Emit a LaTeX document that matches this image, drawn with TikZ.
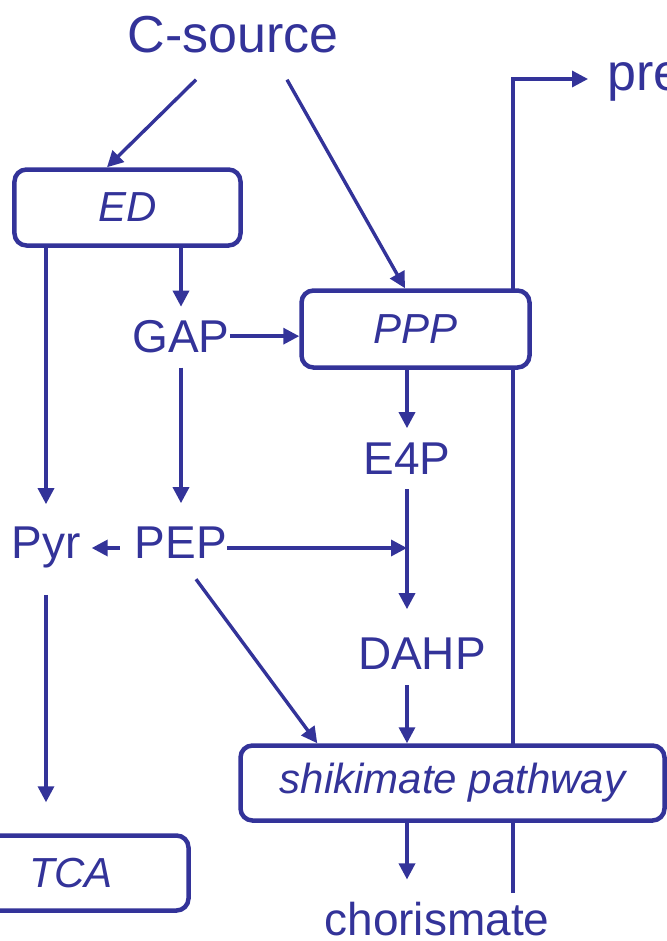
\documentclass[tikz,border=0pt]{standalone}
\usepackage{fontspec}
\setmainfont{Liberation Sans}
\usetikzlibrary{calc,arrows.meta}
\definecolor{pathblue}{RGB}{51,51,153}

\begin{document}
\begin{tikzpicture}[x=1bp,y=-1bp,>={Triangle[length=16bp,width=16bp]},
  flow/.style={->,draw=pathblue,line width=3.4bp},
  metab/.style={text=pathblue,inner sep=0pt,anchor=base,font=\fontsize{46bp}{55bp}\selectfont},
  big/.style={metab,font=\fontsize{52bp}{62bp}\selectfont},
  block/.style={draw=pathblue,fill=white,line width=4.5bp,rounded corners=12bp,inner sep=0pt,
    text=pathblue,font=\fontsize{42bp}{50bp}\selectfont\itshape}]
  \useasboundingbox (0,0) rectangle (667,941);
  \clip (0,0) rectangle (667,941);

  \node[big] (csrc) at (233,52) {C-source};
  \node[big,anchor=base west] (pre) at (607,90) {pre};
  \node[metab] (GAP) at (181,352) {GAP};
  \node[metab] (E4P) at (407,474) {E4P};
  \node[metab] (Pyr) at (46,558) {Pyr};
  \node[metab] (PEP) at (181,558) {PEP};
  \node[metab] (DAHP) at (422,669) {DAHP};
  \node[metab] (chor) at (437,935) {chorismate};

  % bypass line runs behind the boxes
  \coordinate (bypass) at (513,893);
  \draw[flow] (bypass) |- ($(pre.base west)+(-19,-11)$);

  \node[block,minimum width=226bp,minimum height=76bp] (ED) at (127.5,207.5) {ED};
  \node[block,minimum width=228bp,minimum height=77bp] (PPP) at (415.5,329) {PPP};
  \node[block,minimum width=424bp,minimum height=75bp] (shik) at (452.5,783) {shikimate pathway};
  \node[block,minimum width=235bp,minimum height=75bp] (TCA) at (71,873) {TCA};

  \draw[flow] ($(csrc.south)+(-37,27)$) -- ($(ED.north)+(-20.5,0)$);
  \draw[flow] ($(csrc.south)+(54,27)$) -- ($(PPP.north)+(-10.5,0)$);
  \draw[flow] (ED.south -| GAP) -- ($(GAP.north)+(0,-13)$);
  \draw[flow] (GAP.east) -- (GAP.east -| PPP.west);
  \draw[flow] (PPP.south -| E4P) -- ($(E4P.north)+(0,-14)$);
  \draw[flow] ($(E4P.south)+(0,15)$) -- ($(E4P |- DAHP.north)+(0,-28)$);
  \draw[flow] ($(PEP.base east)+(0,-10)$) -- ($(PEP.base east -| E4P)+(0,-10)$);
  \draw[flow] ($(PEP.base west)+(-15,-10)$) -- ($(Pyr.base east)+(11,-10)$);
  \draw[flow] (ED.south -| Pyr) -- ($(Pyr.north)+(0,-22)$);
  \draw[flow] ($(GAP.south)+(0,15)$) -- ($(PEP.north)+(0,-23)$);
  \draw[flow] ($(Pyr.south)+(0,27)$) -- ($(Pyr |- TCA.north)+(0,-31)$);
  \draw[flow] ($(PEP.south)+(15,21)$) -- ($(shik.north west)+(79,0)$);
  \draw[flow] ($(DAHP.south -| E4P)+(0,16)$) -- (E4P |- shik.north);
  \draw[flow] (shik.south -| E4P) -- ($(E4P |- chor.north)+(0,-22)$);
\end{tikzpicture}
\end{document}
